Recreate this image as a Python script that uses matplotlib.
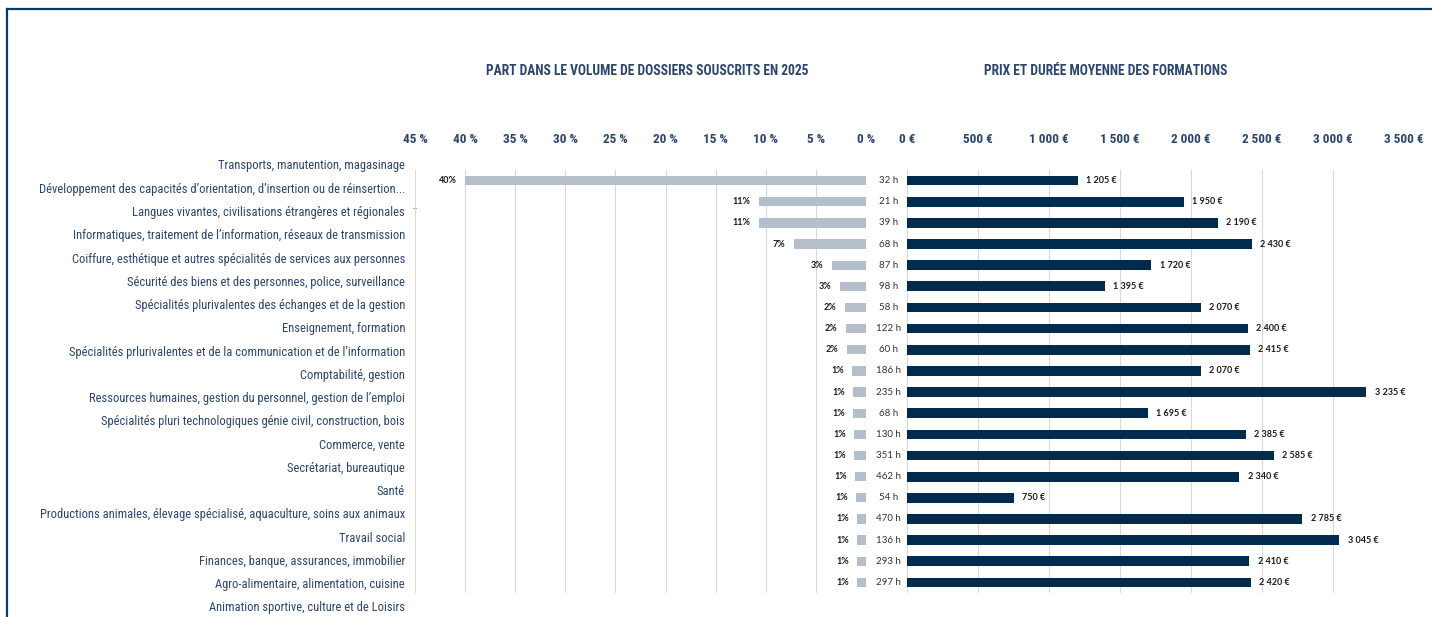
import matplotlib
matplotlib.use("Agg")
import matplotlib.pyplot as plt
from matplotlib.lines import Line2D

NARROW = ['Roboto Condensed', 'Liberation Sans Narrow', 'DejaVu Sans Condensed', 'Roboto', 'DejaVu Sans']
plt.rcParams['font.family'] = NARROW

# categories (left column, own spacing)
categories = [
    "Transports, manutention, magasinage",
    "Développement des capacités d\u2019orientation, d\u2019insertion ou de réinsertion...",
    "Langues vivantes, civilisations étrangères et régionales",
    "Informatiques, traitement de l\u2019information, réseaux de transmission",
    "Coiffure, esthétique et autres spécialités de services aux personnes",
    "Sécurité des biens et des personnes, police, surveillance",
    "Spécialités plurivalentes des échanges et de la gestion",
    "Enseignement, formation",
    "Spécialités prlurivalentes et de la communication et de l\u2019information",
    "Comptabilité, gestion",
    "Ressources humaines, gestion du personnel, gestion de l\u2019emploi",
    "Spécialités pluri technologiques génie civil, construction, bois",
    "Commerce, vente",
    "Secrétariat, bureautique",
    "Santé",
    "Productions animales, élevage spécialisé, aquaculture, soins aux animaux",
    "Travail social",
    "Finances, banque, assurances, immobilier",
    "Agro-alimentaire, alimentation, cuisine",
    "Animation sportive, culture et de Loisirs",
]

# part dans le volume de dossiers (%)
part = [40.0, 10.7, 10.7, 7.2, 3.4, 2.6, 2.1, 2.0, 1.9, 1.4,
        1.3, 1.3, 1.2, 1.2, 1.1, 1.0, 0.9, 0.9, 0.9, 0.9]
# durée moyenne (h)
heures = [32, 21, 39, 68, 87, 98, 58, 122, 60, 186,
          235, 68, 130, 351, 462, 54, 470, 136, 293, 297]
# prix moyen (€)
prix = [1205, 1950, 2190, 2430, 1720, 1395, 2070, 2400, 2415, 2070,
        3235, 1695, 2385, 2585, 2340, 750, 2785, 3045, 2410, 2420]

pct_ticks = [45, 40, 35, 30, 25, 20, 15, 10, 5, 0]
eur_ticks = [0, 500, 1000, 1500, 2000, 2500, 3000, 3500]

NAVY = '#002b4d'
GREY = '#b4bfc9'
TXT = '#2c466b'
GRID = '#d9d9d9'
W, H = 1432, 617


def fx(px):
    return px / W


def fy(px):
    return 1 - px / H


def thousands(v):
    return f"{v:,}".replace(",", " ")


def fit(texts, width_px, renderer):
    # shrink a group of texts so that the widest one spans width_px
    widest = max(t.get_window_extent(renderer).width for t in texts)
    for t in texts:
        t.set_fontsize(t.get_fontsize() * width_px / widest)


fig = plt.figure(figsize=(14.32, 6.17), dpi=100)
rend = fig.canvas.get_renderer()

# frame
fig.add_artist(Line2D([fx(7), fx(7)], [0, fy(9)], color='#0d3a60', lw=1.6))
fig.add_artist(Line2D([fx(7), 1], [fy(9), fy(9)], color='#0d3a60', lw=1.6))

top, bot = 170, 593
n = len(part)
ypos = list(range(n))

# left panel
axL = fig.add_axes([fx(415), fy(bot), fx(866) - fx(415), fy(top) - fy(bot)])
axL.barh(ypos, part, height=0.44, color=GREY)
axL.set_xlim(45, 0)
axL.set_ylim(n - 0.5, -0.5)
axL.set_xticks(pct_ticks)
axL.set_xticklabels([f"{t} %" for t in pct_ticks])
axL.set_yticks([])
for y, v in zip(ypos, part):
    axL.annotate(f"{v:.0f}%", (v, y), xytext=(-6, 0), textcoords='offset points',
                 ha='right', va='center', fontsize=6.5, fontweight='bold',
                 family=['Lato', 'DejaVu Sans'], color='#1a1a1a')

# right panel
axR = fig.add_axes([fx(907), fy(bot), fx(1404) - fx(907), fy(top) - fy(bot)])
axR.barh(ypos, prix, height=0.46, color=NAVY)
axR.set_xlim(0, 3500)
axR.set_ylim(n - 0.5, -0.5)
axR.set_xticks(eur_ticks)
axR.set_xticklabels([f"{thousands(t)} €" for t in eur_ticks])
axR.set_yticks([])
for y, v, h in zip(ypos, prix, heures):
    axR.annotate(f"{thousands(v)} €", (v, y), xytext=(6, 0), textcoords='offset points',
                 ha='left', va='center', fontsize=6.5, fontweight='bold',
                 family=['Lato', 'DejaVu Sans'], color='#1a1a1a')
    axR.annotate(f"{h} h", (0, y), xytext=(-13.5, 0), textcoords='offset points',
                 ha='center', va='center', fontsize=7,
                 family=['Lato', 'DejaVu Sans'], color='#333333')

for ax in (axL, axR):
    ax.xaxis.tick_top()
    ax.tick_params(axis='x', length=0, pad=17, labelsize=9.5, labelcolor=TXT)
    for lab in ax.get_xticklabels():
        lab.set_fontweight('bold')
    ax.grid(axis='x', color=GRID, lw=0.8)
    ax.set_axisbelow(True)
    for s in ax.spines.values():
        s.set_visible(False)

# titles
t1 = fig.text(fx(647), fy(71), "PART DANS LE VOLUME DE DOSSIERS SOUSCRITS EN 2025",
              ha='center', va='center', fontsize=9, fontweight='bold', color=TXT)
t2 = fig.text(fx(1106), fy(71), "PRIX ET DURÉE MOYENNE DES FORMATIONS",
              ha='center', va='center', fontsize=9, fontweight='bold', color=TXT)
fit([t1, t2], 323, rend)

# category labels on their own scale
y0, y1 = 166, 608
step = (y1 - y0) / (len(categories) - 1)
axC = fig.add_axes([fx(10), fy(bot), fx(405) - fx(10), fy(top) - fy(bot)])
axC.set_xlim(0, 1)
axC.set_ylim((bot - y0) / step, (top - y0) / step)
axC.axis('off')
cat_txt = [axC.text(1, k, c, ha='right', va='center', fontsize=9.5, color=TXT, clip_on=False)
           for k, c in enumerate(categories)]
fit(cat_txt, 367, rend)
axC.text(1.02, 1.8, "...", ha='left', va='center', fontsize=5, color='#333333', clip_on=False)

fig.savefig("out.png", dpi=100)
